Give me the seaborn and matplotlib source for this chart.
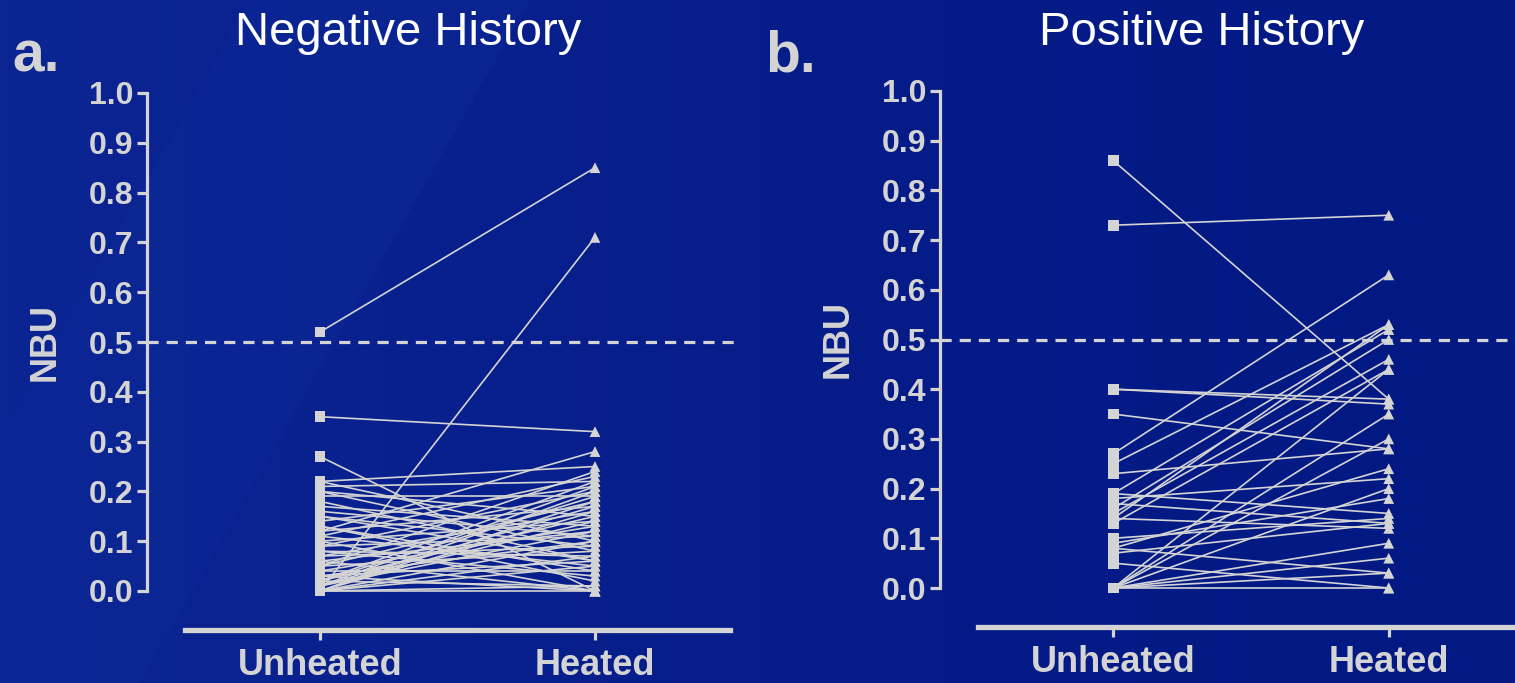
import numpy as np
import pandas as pd
import matplotlib
matplotlib.use("Agg")
import matplotlib.pyplot as plt
from matplotlib.patches import Polygon
import seaborn as sns

# Datos (NBU por paciente: sin calentar -> calentado)
conditions = ["Unheated", "Heated"]
panel_titles = ["Negative History", "Positive History"]
panel_letters = ["a.", "b."]

neg_unheated = [0.52, 0.00, 0.35, 0.27, 0.12, 0.22, 0.21, 0.22, 0.20, 0.19,
                0.17, 0.15, 0.14, 0.13, 0.12, 0.11, 0.10, 0.10, 0.09, 0.09,
                0.08, 0.08, 0.07, 0.07, 0.06, 0.06, 0.05, 0.05, 0.04, 0.04,
                0.03, 0.03, 0.02, 0.02, 0.02, 0.01, 0.01, 0.01, 0.01, 0.00,
                0.00, 0.00, 0.00, 0.00, 0.00, 0.00, 0.00, 0.03, 0.02, 0.15,
                0.16, 0.18, 0.20, 0.11, 0.13, 0.05]
neg_heated = [0.85, 0.71, 0.32, 0.00, 0.28, 0.25, 0.22, 0.10, 0.08, 0.19,
              0.13, 0.06, 0.21, 0.02, 0.17, 0.05, 0.14, 0.00, 0.11, 0.20,
              0.07, 0.03, 0.16, 0.09, 0.12, 0.00, 0.08, 0.18, 0.04, 0.13,
              0.10, 0.06, 0.22, 0.19, 0.15, 0.21, 0.17, 0.14, 0.12, 0.20,
              0.18, 0.16, 0.10, 0.07, 0.05, 0.01, 0.00, 0.00, 0.01, 0.09,
              0.11, 0.06, 0.15, 0.23, 0.04, 0.24]

pos_unheated = [0.86, 0.73, 0.40, 0.40, 0.35, 0.27, 0.25, 0.23, 0.19, 0.19,
                0.18, 0.17, 0.16, 0.15, 0.14, 0.14, 0.13, 0.10, 0.09, 0.08,
                0.08, 0.07, 0.05, 0.00, 0.00, 0.00, 0.00, 0.00, 0.00, 0.00,
                0.00]
pos_heated = [0.38, 0.75, 0.37, 0.38, 0.28, 0.63, 0.53, 0.28, 0.52, 0.15,
              0.22, 0.13, 0.50, 0.46, 0.53, 0.12, 0.44, 0.14, 0.18, 0.03,
              0.24, 0.13, 0.00, 0.44, 0.30, 0.20, 0.09, 0.06, 0.03, 0.00,
              0.35]

LIGHT = "#d4d4d4"


def to_long(unheated, heated):
    rows = []
    for i, (u, h) in enumerate(zip(unheated, heated)):
        rows.append({"subject": i, "x": 0, "cond": conditions[0], "NBU": u})
        rows.append({"subject": i, "x": 1, "cond": conditions[1], "NBU": h})
    return pd.DataFrame(rows)


sns.set_style("ticks")
plt.rcParams["font.family"] = ["Liberation Sans", "DejaVu Sans"]

W, H = 1515, 683
fig = plt.figure(figsize=(W / 100, H / 100), dpi=100)

# Fondo azul con degradado
bg = fig.add_axes([0, 0, 1, 1], zorder=-10)
grad = np.linspace(0, 1, 256)[None, :]
cmap = matplotlib.colors.LinearSegmentedColormap.from_list("bg", ["#0b2592", "#061d8a", "#021882"])
bg.imshow(grad, aspect="auto", cmap=cmap, extent=[0, 1, 0, 1])
band = [(0, 0), (140 / W, 0), (530 / W, 1), (250 / W, 1), (0, 0.36)]
bg.add_patch(Polygon(band, closed=True, color="#0d2a98", alpha=0.45, lw=0))
bg.set_xlim(0, 1)
bg.set_ylim(0, 1)
bg.axis("off")

panels = [
    (neg_unheated, neg_heated, [185 / W, 92 / H, 545 / W, 498 / H], 408, 12),
    (pos_unheated, pos_heated, [978 / W, 95 / H, 546 / W, 497 / H], 1202, 765),
]

for k, (unh, hea, rect, title_x, letter_x) in enumerate(panels):
    df = to_long(unh, hea)
    ax = fig.add_axes(rect)
    ax.patch.set_alpha(0)

    sns.lineplot(data=df, x="x", y="NBU", units="subject", estimator=None,
                 color=LIGHT, lw=1.2, ax=ax, legend=False, clip_on=False)
    sns.scatterplot(data=df, x="x", y="NBU", style="cond",
                    markers={"Unheated": "s", "Heated": "^"}, color=LIGHT,
                    s=60, edgecolor="none", ax=ax, legend=False, zorder=3,
                    clip_on=False)

    # Linea de corte 0.5
    ax.axhline(0.5, xmin=-38 / 545, xmax=1.01, color=LIGHT, lw=2.3,
               ls=(0, (3.5, 2.5)), clip_on=False)

    ax.set_xlim(-0.491, 1.491)
    ax.set_ylim(0, 1)
    ax.set_xticks([0, 1])
    ax.set_xticklabels(conditions)
    ax.set_yticks(np.arange(0, 1.01, 0.1))
    ax.set_yticklabels([f"{v:.1f}" for v in np.arange(0, 1.01, 0.1)])
    ax.set_xlabel("")
    ax.set_ylabel("NBU", fontsize=26, fontweight="bold", color=LIGHT)
    ax.yaxis.set_label_coords(-0.224, 0.5)

    sns.despine(ax=ax)
    ax.spines["left"].set_position(("outward", 27.4))
    ax.spines["bottom"].set_position(("outward", 28))
    ax.spines["left"].set_bounds(0, 1)
    ax.spines["left"].set_color(LIGHT)
    ax.spines["bottom"].set_color(LIGHT)
    ax.spines["left"].set_linewidth(2.3)
    ax.spines["bottom"].set_linewidth(3.8)
    ax.tick_params(axis="y", colors=LIGHT, length=7, width=2.3, pad=3,
                   labelsize=23)
    ax.tick_params(axis="x", colors=LIGHT, length=7, width=2.3, pad=6,
                   labelsize=26)
    for lab in ax.get_xticklabels() + ax.get_yticklabels():
        lab.set_fontweight("bold")

    fig.text(title_x / W, 1 - 33 / H, panel_titles[k], ha="center",
             va="center", fontsize=34, color="white")
    fig.text(letter_x / W, 1 - 57 / H, panel_letters[k], ha="left",
             va="center", fontsize=41, fontweight="bold", color=LIGHT)

fig.savefig("out.png", dpi=100, facecolor=fig.get_facecolor())
